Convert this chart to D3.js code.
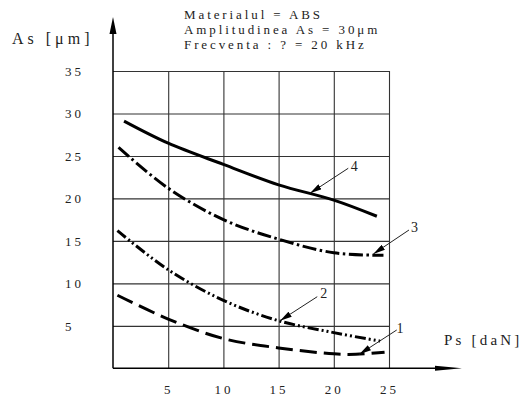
<!DOCTYPE html>
<html>
<head>
<meta charset="utf-8">
<script src="https://cdn.jsdelivr.net/npm/d3@7"></script>
<style>
body { margin: 0; background: #fff; }
text { font-family: "Liberation Serif", "Times New Roman", serif; fill: #222; }
</style>
</head>
<body>
<svg id="chart" width="524" height="399"></svg>
<script>
// chart data
var xTicks = [5, 10, 15, 20, 25];
var yTicks = [5, 10, 15, 20, 25, 30, 35];
var titleLines = ["Materialul = ABS", "Amplitudinea As = 30μm", "Frecventa : ? = 20 kHz"];
var yTitle = "As [μm]";
var xTitle = "Ps [daN]";

var curve1X = [0.4, 5, 10, 15, 20, 22, 24.6];
var curve1Y = [8.6, 5.8, 3.5, 2.4, 1.7, 1.65, 1.9];
var curve2X = [0.4, 5, 10, 15, 20, 24.2];
var curve2Y = [16.2, 11.6, 8.0, 5.6, 4.2, 3.2];
var curve3X = [0.5, 5, 10, 15, 20, 24.5];
var curve3Y = [26.0, 21.2, 17.5, 15.2, 13.6, 13.3];
var curve4X = [1, 5, 10, 15, 20, 23.9];
var curve4Y = [29.1, 26.5, 24.0, 21.6, 19.8, 17.9];

// curve labels: text point, start of leader, arrow point (data units)
var labelNames = ["1", "2", "3", "4"];
var labelX = [26.0, 19.08, 27.3, 21.86];
var labelY = [4.69, 8.87, 16.63, 23.76];
var leaderX = [25.7, 18.5, 26.81, 21.31];
var leaderY = [4.51, 8.43, 16.28, 23.55];
var pointX = [22.31, 15.13, 23.58, 17.84];
var pointY = [1.65, 5.6, 13.46, 20.6];

var svg = d3.select("#chart");
var plotLeft = 113, plotRight = 389, plotTop = 71, plotBottom = 368.3;

var x = d3.scaleLinear().domain([0, 25]).range([plotLeft, plotRight]);
var y = d3.scaleLinear().domain([0, 35]).range([plotBottom, plotTop]);

// grid
var gx = svg.append("g")
    .attr("transform", "translate(0," + plotBottom + ")")
    .call(d3.axisBottom(x).tickValues(xTicks).tickSize(-(plotBottom - plotTop)).tickPadding(16))
gx.select(".domain").remove();
gx.selectAll("line").attr("stroke", "#333").attr("stroke-width", 1.1);
gx.selectAll("text")
    .style("font-size", "13px")
    .style("letter-spacing", "3px")
    .style("font-family", "Liberation Serif")
    .attr("fill", "#333");

var gy = svg.append("g")
    .attr("transform", "translate(" + plotLeft + ",0)")
    .call(d3.axisLeft(y).tickValues(yTicks).tickSize(-(plotRight - plotLeft)))
gy.select(".domain").remove();
gy.selectAll("line").attr("stroke", "#333").attr("stroke-width", 1.1);
gy.selectAll("text")
    .attr("x", -48)
    .attr("text-anchor", "start")
    .style("font-size", "13px")
    .style("letter-spacing", "3px")
    .style("font-family", "Liberation Serif")
    .attr("fill", "#333");

// axes with arrows
svg.append("line")
    .attr("x1", plotLeft).attr("y1", plotBottom).attr("x2", plotLeft).attr("y2", 30)
    .attr("stroke", "#000").attr("stroke-width", 1.5);
svg.append("path")
    .attr("d", "M" + plotLeft + ",17 L" + (plotLeft + 3.5) + ",34 L" + (plotLeft - 3.5) + ",34 Z")
    .attr("fill", "#000");
svg.append("line")
    .attr("x1", plotLeft).attr("y1", plotBottom).attr("x2", 440).attr("y2", plotBottom)
    .attr("stroke", "#000").attr("stroke-width", 1.5);
svg.append("path")
    .attr("d", "M462," + plotBottom + " L435," + (plotBottom - 2.5) + " L435," + (plotBottom + 2.5) + " Z")
    .attr("fill", "#000");

// titles
svg.append("text")
    .attr("x", 12).attr("y", 44)
    .style("font-size", "16px")
    .style("letter-spacing", "4px")
    .text(yTitle);
svg.append("text")
    .attr("x", 444).attr("y", 345)
    .style("font-size", "15px")
    .style("letter-spacing", "3.2px")
    .text(xTitle);

svg.selectAll(".title")
    .data(titleLines)
    .enter().append("text")
    .attr("class", "title")
    .attr("x", 184)
    .attr("y", function (d, i) { return 19 + i * 15; })
    .style("font-size", "13px")
    .style("letter-spacing", "2.9px")
    .text(function (d) { return d; });

// curves
var line = d3.line()
    .x(function (d) { return x(d[0]); })
    .y(function (d) { return y(d[1]); })
    .curve(d3.curveCatmullRom);

var curves = [
    { xs: curve1X, ys: curve1Y, dash: "17,7" },
    { xs: curve2X, ys: curve2Y, dash: "11,3,2,3,2,3" },
    { xs: curve3X, ys: curve3Y, dash: "14,3.5,2.5,3.5" },
    { xs: curve4X, ys: curve4Y, dash: null }
];

curves.forEach(function (c) {
    var pts = c.xs.map(function (v, i) { return [v, c.ys[i]]; });
    svg.append("path")
        .datum(pts)
        .attr("d", line)
        .attr("fill", "none")
        .attr("stroke", "#000")
        .attr("stroke-width", 3)
        .attr("stroke-dasharray", c.dash);
});

// curve labels with leader arrows
svg.append("defs").append("marker")
    .attr("id", "arr")
    .attr("viewBox", "0 0 12 6")
    .attr("refX", 12).attr("refY", 3)
    .attr("markerWidth", 12).attr("markerHeight", 6)
    .attr("markerUnits", "userSpaceOnUse")
    .attr("orient", "auto")
    .append("path")
    .attr("d", "M0,0 L12,3 L0,6 Z")
    .attr("fill", "#000");

labelNames.forEach(function (n, i) {
    svg.append("line")
        .attr("x1", x(leaderX[i])).attr("y1", y(leaderY[i]))
        .attr("x2", x(pointX[i])).attr("y2", y(pointY[i]))
        .attr("stroke", "#222").attr("stroke-width", 1)
        .attr("marker-end", "url(#arr)");
    svg.append("text")
        .attr("x", x(labelX[i])).attr("y", y(labelY[i]))
        .attr("dy", "0.35em")
        .attr("text-anchor", "middle")
        .style("font-size", "14px")
        .text(n);
});
</script>
</body>
</html>
